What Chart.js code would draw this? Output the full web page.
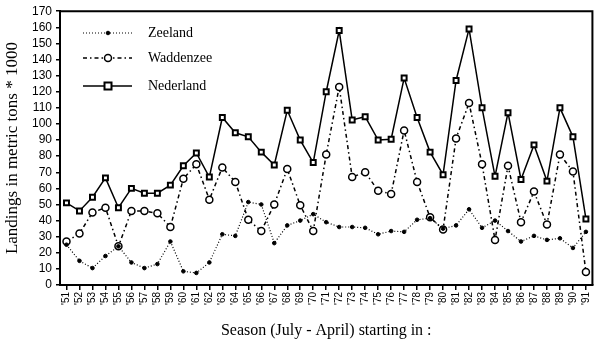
<!DOCTYPE html>
<html>
<head>
<meta charset="utf-8">
<script src="https://cdn.jsdelivr.net/npm/chart.js@4"></script>
<style>
  html, body { margin: 0; padding: 0; background: #fff; }
</style>
</head>
<body>
<canvas id="landingsChart" width="600" height="349"></canvas>
<script>
// Seizoenen '51 t/m '91
const seasons = ["'51","'52","'53","'54","'55","'56","'57","'58","'59","'60",
  "'61","'62","'63","'64","'65","'66","'67","'68","'69","'70",
  "'71","'72","'73","'74","'75","'76","'77","'78","'79","'80",
  "'81","'82","'83","'84","'85","'86","'87","'88","'89","'90","'91"];

const zeeland = [25, 15, 10.5, 18, 24, 14, 10.5, 13, 27, 8.5,
  7.5, 14, 31.5, 30.5, 51.5, 50, 26, 37, 40, 44,
  39, 36, 36, 35.5, 31.5, 33.5, 33, 40.5, 41.5, 35,
  37, 47, 35.5, 40, 33.5, 27, 30.5, 28, 29, 23, 33];

const waddenzee = [27, 32, 45, 48, 24, 46, 46, 44.5, 36, 66,
  75, 53, 73, 64, 40.5, 33.5, 50, 72, 49.5, 33.5,
  81, 123, 67, 70, 58.5, 56.5, 96, 64, 42, 34.5,
  91, 113, 75, 28, 74, 39, 58, 37.5, 81, 70.5, 8];

const nederland = [51, 46, 54.5, 66.5, 48, 60, 57, 57, 62, 74,
  82, 67, 104, 94.5, 92, 82.5, 74.5, 108.5, 90, 76,
  120, 158, 102.5, 104.5, 90, 90.5, 128.5, 104, 82.5, 68.5,
  127, 159, 110, 67.5, 107, 65.5, 87, 64.5, 110, 92, 41];

const yTicks = { min: 0, max: 170, step: 10 };

// legenda linksboven in het plotvlak, zoals in het origineel
const boxLegend = {
  id: 'boxLegend',
  afterDraw(chart) {
    const c = chart.ctx;
    const rows = [
      { ds: chart.data.datasets[0], y: 33 },
      { ds: chart.data.datasets[1], y: 58 },
      { ds: chart.data.datasets[2], y: 86 }
    ];
    c.save();
    rows.forEach(r => {
      const ds = r.ds;
      c.strokeStyle = '#000';
      c.lineWidth = ds.borderWidth;
      c.setLineDash(ds.borderDash || []);
      c.beginPath();
      c.moveTo(83, r.y);
      c.lineTo(132, r.y);
      c.stroke();
      c.setLineDash([]);
      // marker
      c.lineWidth = ds.pointBorderWidth;
      c.fillStyle = ds.pointBackgroundColor;
      c.beginPath();
      if (ds.pointStyle === 'rect') {
        const s = ds.pointRadius;
        c.rect(108 - s, r.y - s, 2 * s, 2 * s);
      } else {
        c.arc(108, r.y, ds.pointRadius, 0, Math.PI * 2);
      }
      c.fill();
      c.stroke();
      c.fillStyle = '#000';
      c.font = '14px "Liberation Serif"';
      c.textBaseline = 'middle';
      c.fillText(ds.label, 148, r.y);
    });
    // kader boven en rechts
    const a = chart.chartArea;
    c.lineWidth = 2;
    c.beginPath();
    c.moveTo(a.left, a.top);
    c.lineTo(a.right, a.top);
    c.lineTo(a.right, a.bottom);
    c.stroke();
    c.restore();
  }
};

const ctx = document.getElementById('landingsChart').getContext('2d');
const landingsChart = new Chart(ctx, {
  type: 'line',
  data: {
    labels: seasons,
    datasets: [
      {
        label: 'Zeeland',
        data: zeeland,
        borderColor: '#000',
        borderWidth: 1.2,
        borderDash: [1, 2],
        pointStyle: 'circle',
        pointRadius: 1.8,
        pointBorderWidth: 1,
        pointBackgroundColor: '#000',
        pointBorderColor: '#000',
        tension: 0
      },
      {
        label: 'Waddenzee',
        data: waddenzee,
        borderColor: '#000',
        borderWidth: 1.5,
        borderDash: [4, 3, 1.5, 3],
        pointStyle: 'circle',
        pointRadius: 3.5,
        pointBorderWidth: 1.5,
        pointBackgroundColor: '#fff',
        pointBorderColor: '#000',
        tension: 0
      },
      {
        label: 'Nederland',
        data: nederland,
        borderColor: '#000',
        borderWidth: 1.5,
        pointStyle: 'rect',
        pointRadius: 3.5,
        pointBorderWidth: 2,
        pointBackgroundColor: '#fff',
        pointBorderColor: '#000',
        tension: 0
      }
    ]
  },
  options: {
    responsive: false,
    animation: false,
    layout: { padding: { top: 10, right: 5, left: 0, bottom: 0 } },
    plugins: {
      legend: { display: false },
      tooltip: { enabled: false }
    },
    scales: {
      x: {
        offset: true,
        grid: { drawOnChartArea: false, drawTicks: true, tickLength: 5, color: '#000', lineWidth: 1.5 },
        border: { color: '#000', width: 2 },
        ticks: {
          color: '#000',
          font: { family: '"Liberation Sans"', size: 10 },
          minRotation: 90,
          maxRotation: 90,
          autoSkip: false,
          padding: 2
        },
        title: {
          display: true,
          text: 'Season (July - April) starting in :',
          color: '#000',
          font: { family: '"Liberation Serif"', size: 16 },
          padding: { top: 0, bottom: 9 }
        },
        afterFit(scale) { scale.height = 64; }
      },
      y: {
        min: yTicks.min,
        max: yTicks.max,
        grid: { drawOnChartArea: false, drawTicks: true, tickLength: 4, color: '#000', lineWidth: 1.5 },
        border: { color: '#000', width: 2 },
        ticks: {
          stepSize: yTicks.step,
          autoSkip: false,
          color: '#000',
          font: { family: '"Liberation Sans"', size: 12 },
          padding: 4
        },
        title: {
          display: true,
          text: 'Landings in metric tons * 1000',
          color: '#000',
          font: { family: '"Liberation Serif"', size: 17 },
          padding: { top: 2, bottom: 0 }
        },
        afterFit(scale) { scale.width = 60; }
      }
    }
  },
  plugins: [boxLegend]
});
</script>
</body>
</html>
